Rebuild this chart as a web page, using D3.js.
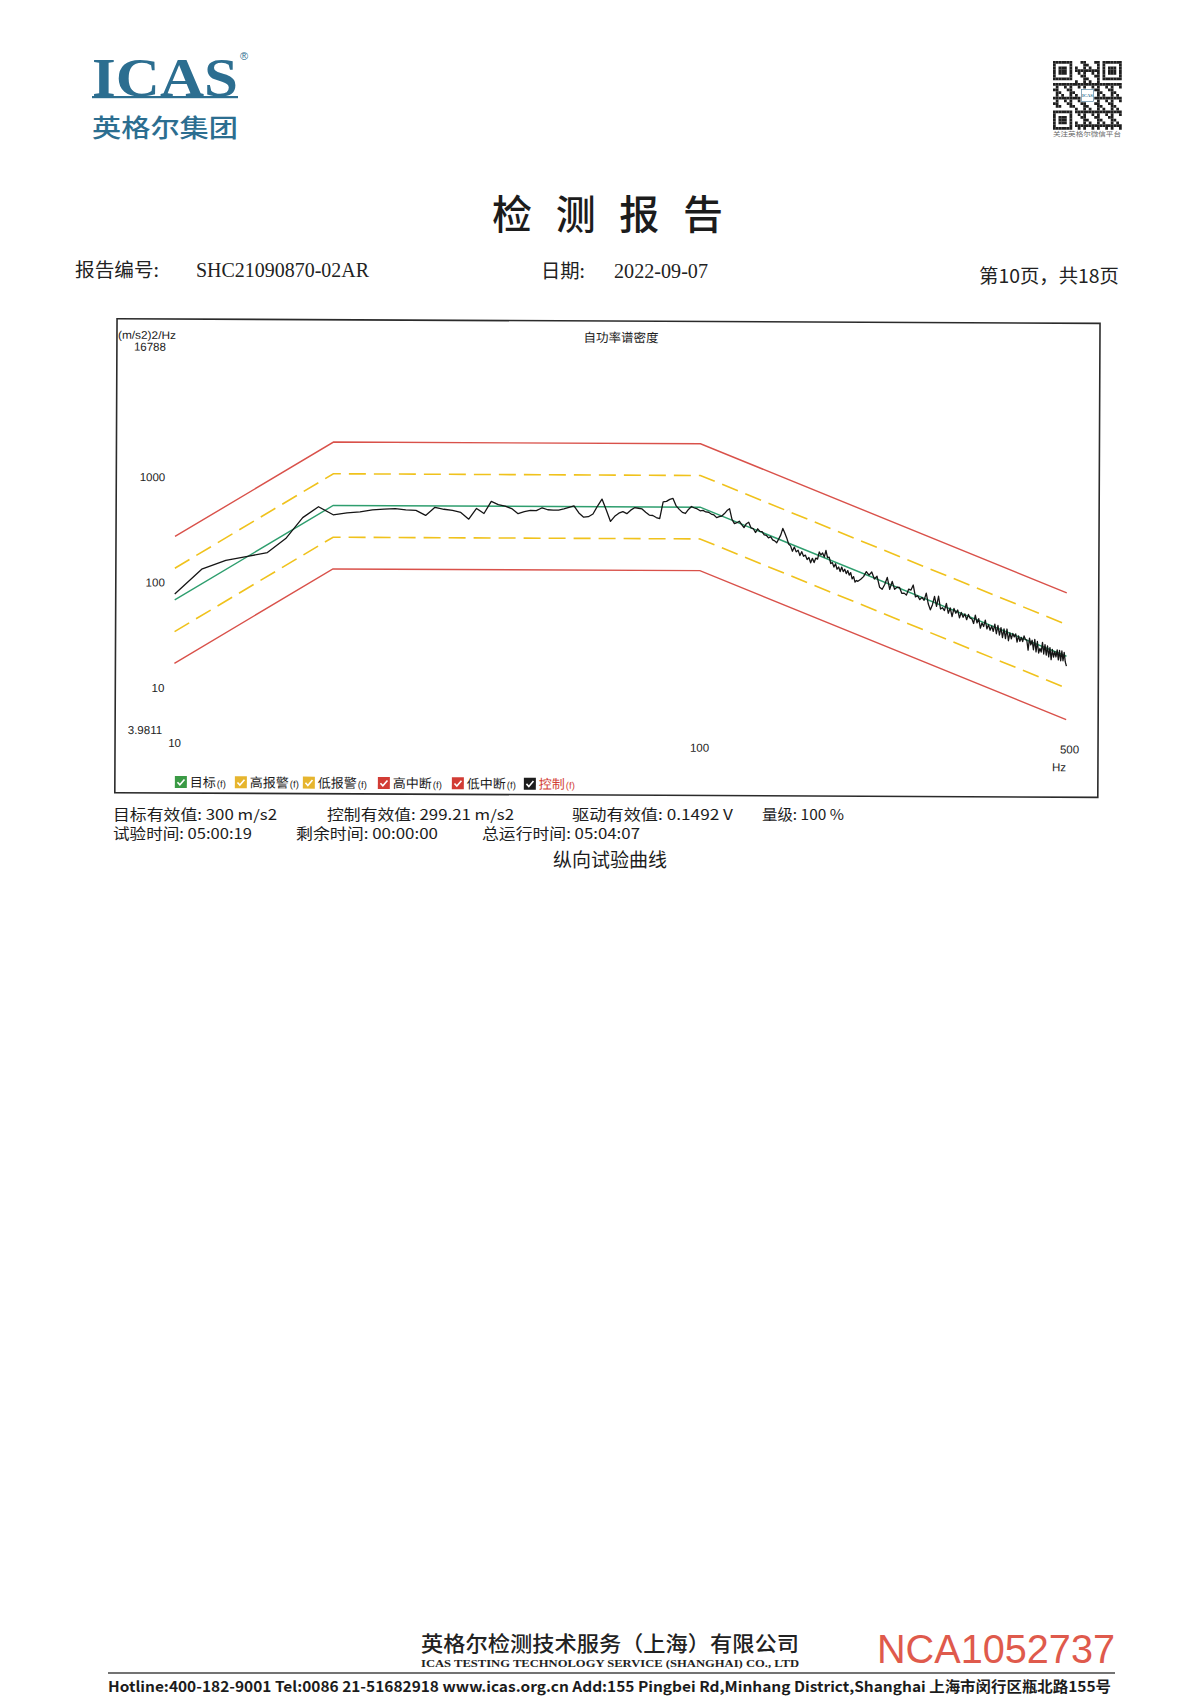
<!DOCTYPE html>
<html><head><meta charset="utf-8">
<script src="https://cdn.jsdelivr.net/npm/d3@7"></script>
<style>
html,body{margin:0;padding:0;background:#fff;}
svg{display:block;}
</style></head><body>
<svg id="page" width="1200" height="1697"></svg>
<script>
// ---- test profile (PSD breakpoints, (m/s2)^2/Hz) ----
const profileFreq   = [10, 20, 100, 500];
const targetPsd     = [68.3, 546.5, 546.5, 21.86];
const highAlarmPsd  = [136.6, 1093, 1093, 43.7];
const lowAlarmPsd   = [34.2, 273.3, 273.3, 10.93];
const highAbortPsd  = [273.3, 2186, 2186, 87.4];
const lowAbortPsd   = [17.1, 136.6, 136.6, 5.47];

// ---- measured control spectrum ----
// band 1: 10 .. 198.75 Hz, 1.25 Hz lines
const ctrlLowStart = 10, ctrlLowStep = 1.25;
const ctrlLow = [
  77.6, 134, 163, 178, 194, 264, 418, 531,
  446, 466, 477, 498, 507, 514, 500, 495, 444, 531, 509, 498, 476, 411, 520, 466,
  608, 567, 549, 520, 466, 487, 502, 498, 531, 509, 505, 505, 520, 537, 555, 476,
  434, 439, 466, 555, 646, 509, 397, 444, 476, 492, 471, 509, 537, 531, 523, 487,
  458, 454, 434, 425, 612, 619, 647, 661, 561, 520, 487, 476, 520, 555, 537, 526, 505,
  510, 493, 490, 471, 462, 436, 446, 452, 477, 509, 531, 421, 383, 391, 404, 375,
  352, 383, 395, 350, 345, 316, 343, 324, 322, 300, 298, 282, 289, 270, 264, 253,
  276, 301, 347, 314, 282, 247, 237, 211, 231, 208, 216, 192, 209, 189, 194, 176,
  184, 164, 181, 165, 182, 178, 208, 195, 204, 186, 215, 184, 186, 162, 165, 150,
  161, 143, 150, 136, 150, 136, 143, 130, 139, 126, 133, 116, 122, 108, 112
];
// band 2: 200 .. 500 Hz, 2.5 Hz lines
const ctrlHighStart = 200, ctrlHighStep = 2.5;
const ctrlHigh = [
  110, 115, 122, 136, 126, 135, 116, 123, 97, 92.7,
  103, 120, 92.7, 110, 92.6, 97, 97, 85, 85.4, 81.8,
  93.3, 91.4, 102, 78.9, 80.8, 74.3, 77.9, 73.1, 85.5, 67.4,
  59.4, 66.5, 79.6, 64.1, 80.1, 60.6, 62.3, 58.6, 68.6, 55.3,
  62.1, 51.3, 61.4, 55.3, 59.4, 50.1, 56.3, 50.7, 54.6, 48.1,
  54.0, 49.8, 49.1, 44.3, 53.2, 44.9, 49.3, 40.0, 44.9, 41.5,
  47.7, 39.4, 43.3, 38.3, 42.1, 37.3, 43.8, 35.5, 42.5, 34.5,
  40.6, 32.6, 39.5, 32.0, 39.4, 30.5, 36.3, 31.8, 35.8, 33.2,
  35.4, 29.6, 34.0, 30.2, 32.8, 30.0, 33.9, 31.4, 31.0, 24.9,
  32.3, 28.0, 30.9, 25.1, 31.5, 24.0, 30.1, 23.4, 25.9, 23.9,
  29.5, 22.9, 28.1, 22.4, 27.3, 21.5, 26.4, 20.3, 25.3, 21.4,
  24.2, 21.5, 25.1, 20.2, 24.8, 19.8, 24.5, 19.8, 23.8, 19.3,
  17.6
];

// ---- axes ----
const yTickValues = [16788, 1000, 100, 10, 3.9811];
const yTickLabels = ["16788", "1000", "100", "10", "3.9811"];
const xTickValues = [10, 100, 500];
const xTickLabels = ["10", "100", "500"];

// ---- legend & readouts ----
const legendNames  = ["目标", "高报警", "低报警", "高中断", "低中断", "控制"];
const legendColors = ["#3a9a45", "#e6b52e", "#e6b52e", "#d23c35", "#d23c35", "#1d1d1d"];
const readoutLine1 = ["目标有效值: 300 m/s2", "控制有效值: 299.21 m/s2", "驱动有效值: 0.1492 V", "量级: 100 %"];
const readoutLine2 = ["试验时间: 05:00:19", "剩余时间: 00:00:00", "总运行时间: 05:04:07"];

const CJK = "'Noto Sans CJK SC', 'Noto Sans', sans-serif";
const SERIF = "'Liberation Serif', 'DejaVu Serif', serif";
const SANS = "'Liberation Sans', Arial, sans-serif";

const svg = d3.select("#page");

// ================= letterhead =================
const brand = "#2c6e90";
svg.append("text").attr("x", 92).attr("y", 96).attr("font-family", SERIF)
  .attr("font-weight", "bold").attr("font-size", 55).attr("fill", brand)
  .attr("textLength", 146).attr("lengthAdjust", "spacingAndGlyphs").text("ICAS");
svg.append("rect").attr("x", 92).attr("y", 96).attr("width", 146).attr("height", 2.2).attr("fill", brand);
svg.append("text").attr("x", 240).attr("y", 60).attr("font-family", SANS)
  .attr("font-size", 11).attr("fill", brand).text("®");
svg.append("text").attr("x", 92).attr("y", 137).attr("font-family", CJK)
  .attr("font-weight", 500).attr("font-size", 25).attr("fill", brand)
  .attr("textLength", 146).attr("lengthAdjust", "spacingAndGlyphs").text("英格尔集团");

// QR badge
(function drawQr() {
  const g = svg.append("g").attr("transform", "translate(1053,61)");
  const n = 25, m = 2.75;
  const finder = (r, c) => {
    const inBox = (r0, c0) => r >= r0 && r < r0 + 7 && c >= c0 && c < c0 + 7;
    const ring = (r0, c0) => {
      const rr = r - r0, cc = c - c0;
      return rr === 0 || rr === 6 || cc === 0 || cc === 6 || (rr >= 2 && rr <= 4 && cc >= 2 && cc <= 4);
    };
    if (inBox(0, 0)) return ring(0, 0) ? 1 : 0;
    if (inBox(0, n - 7)) return ring(0, n - 7) ? 1 : 0;
    if (inBox(n - 7, 0)) return ring(n - 7, 0) ? 1 : 0;
    if ((r === 7 && (c < 8 || c > n - 9)) || (c === 7 && (r < 8 || r > n - 9)) || (r === n - 8 && c < 8) || (c === n - 8 && r < 8)) return 0;
    return -1;
  };
  for (let r = 0; r < n; r++) {
    for (let c = 0; c < n; c++) {
      let on = finder(r, c);
      if (on === -1) on = ((r * 7 + c * 11 + r * c * 3) % 5 < 2) ? 1 : 0;
      if (r >= 10 && r <= 14 && c >= 10 && c <= 14) on = 0;
      if (on) g.append("rect").attr("x", c * m).attr("y", r * m).attr("width", m).attr("height", m).attr("fill", "#1f1f1f");
    }
  }
  g.append("rect").attr("x", 10.3 * m).attr("y", 10.3 * m).attr("width", 4.4 * m).attr("height", 4.4 * m)
    .attr("fill", "#fff").attr("stroke", "#3a6f90").attr("stroke-width", 0.6);
  g.append("text").attr("x", 12.5 * m).attr("y", 13.1 * m).attr("text-anchor", "middle")
    .attr("font-family", SERIF).attr("font-weight", "bold").attr("font-size", 4.5).attr("fill", brand).text("ICAS");
  svg.append("text").attr("x", 1087).attr("y", 136).attr("text-anchor", "middle").attr("font-family", CJK)
    .attr("font-size", 6).attr("fill", "#666").attr("textLength", 68).attr("lengthAdjust", "spacingAndGlyphs")
    .text("关注英格尔微信平台");
})();

// report title and header row
svg.append("text").attr("x", 492).attr("y", 229).attr("font-family", CJK).attr("font-weight", 500)
  .attr("font-size", 40).attr("fill", "#1c1c1c").attr("textLength", 231).attr("lengthAdjust", "spacing").text("检测报告");
svg.append("text").attr("x", 75).attr("y", 277).attr("font-family", CJK).attr("font-size", 19).attr("fill", "#222")
  .attr("textLength", 84).attr("lengthAdjust", "spacingAndGlyphs").text("报告编号:");
svg.append("text").attr("x", 196).attr("y", 277).attr("font-family", SERIF).attr("font-size", 20).attr("fill", "#222")
  .attr("textLength", 173).attr("lengthAdjust", "spacingAndGlyphs").text("SHC21090870-02AR");
svg.append("text").attr("x", 541).attr("y", 278).attr("font-family", CJK).attr("font-size", 19).attr("fill", "#222")
  .attr("textLength", 44).attr("lengthAdjust", "spacingAndGlyphs").text("日期:");
svg.append("text").attr("x", 614).attr("y", 278).attr("font-family", SERIF).attr("font-size", 20).attr("fill", "#222")
  .attr("textLength", 94).attr("lengthAdjust", "spacingAndGlyphs").text("2022-09-07");
svg.append("text").attr("x", 979).attr("y", 283).attr("font-family", CJK).attr("font-size", 19).attr("fill", "#222")
  .attr("textLength", 140).attr("lengthAdjust", "spacingAndGlyphs").text("第10页，共18页");

// ================= PSD chart =================
const x = d3.scaleLog().domain([10, 500]).range([175, 1067]);
const y = d3.scaleLog().domain([3.9811, 16788]).range([730, 348]);

const chart = svg.append("g").attr("transform", "rotate(0.27,175,540)");
chart.append("rect").attr("x", 116).attr("y", 319).attr("width", 983).attr("height", 474)
  .attr("fill", "none").attr("stroke", "#2b2b2b").attr("stroke-width", 1.6);

chart.append("text").attr("x", 620).attr("y", 340).attr("text-anchor", "middle").attr("font-family", CJK)
  .attr("font-size", 12.5).attr("fill", "#222").text("自功率谱密度");
chart.append("text").attr("x", 117).attr("y", 339).attr("font-family", SANS).attr("font-size", 11).attr("fill", "#222")
  .attr("textLength", 58).attr("lengthAdjust", "spacingAndGlyphs").text("(m/s2)2/Hz");

// axis labels through d3 axes (no domain line, no tick marks)
const yAxis = d3.axisLeft(y).tickValues(yTickValues).tickSize(0).tickPadding(0)
  .tickFormat((d, i) => yTickLabels[i]);
const yg = chart.append("g").attr("transform", "translate(165,0)").call(yAxis);
yg.select(".domain").remove();
yg.selectAll("text").attr("font-family", SANS).attr("font-size", 11.5).attr("fill", "#222")
  .attr("dy", (d) => d === 16788 ? "0.2em" : "0.32em")
  .attr("dx", (d) => d === 3.9811 ? -2 : 0);

const xAxis = d3.axisBottom(x).tickValues(xTickValues).tickSize(0).tickPadding(0)
  .tickFormat((d, i) => xTickLabels[i]);
const xg = chart.append("g").attr("transform", "translate(0,740)").call(xAxis);
xg.select(".domain").remove();
xg.selectAll("text").attr("font-family", SANS).attr("font-size", 11.5).attr("fill", "#222")
  .attr("dx", (d) => d === 500 ? 3 : 0).attr("dy", (d) => d === 10 ? "0.6em" : "0.8em");
chart.append("text").attr("x", 1060).attr("y", 767).attr("text-anchor", "middle").attr("font-family", SANS)
  .attr("font-size", 11.5).attr("fill", "#222").text("Hz");

const line = d3.line().x((d) => x(d.f)).y((d) => y(d.v));
const profile = (vals) => profileFreq.map((f, i) => ({ f, v: vals[i] }));

const plot = chart.append("g");
plot.append("path").datum(profile(highAbortPsd)).attr("d", line)
  .attr("fill", "none").attr("stroke", "#d9514a").attr("stroke-width", 1.4);
plot.append("path").datum(profile(lowAbortPsd)).attr("d", line)
  .attr("fill", "none").attr("stroke", "#d9514a").attr("stroke-width", 1.4);
plot.append("path").datum(profile(highAlarmPsd)).attr("d", line)
  .attr("fill", "none").attr("stroke", "#f0c21c").attr("stroke-width", 1.6).attr("stroke-dasharray", "17,8");
plot.append("path").datum(profile(lowAlarmPsd)).attr("d", line)
  .attr("fill", "none").attr("stroke", "#f0c21c").attr("stroke-width", 1.6).attr("stroke-dasharray", "17,8");
plot.append("path").datum(profile(targetPsd)).attr("d", line)
  .attr("fill", "none").attr("stroke", "#2e9e6e").attr("stroke-width", 1.4);

const control = ctrlLow.map((v, i) => ({ f: ctrlLowStart + i * ctrlLowStep, v }))
  .concat(ctrlHigh.map((v, i) => ({ f: ctrlHighStart + i * ctrlHighStep, v })));
plot.append("path").datum(control).attr("d", line)
  .attr("fill", "none").attr("stroke", "#151515").attr("stroke-width", 1.3).attr("stroke-linejoin", "round");

// legend with check boxes
const legendX = [176, 236, 304, 379, 453, 525];
const lg = chart.append("g");
legendNames.forEach((name, i) => {
  const bx = legendX[i], by = 776;
  lg.append("rect").attr("x", bx).attr("y", by).attr("width", 12).attr("height", 12).attr("fill", legendColors[i]);
  lg.append("path").attr("d", `M${bx + 2.6},${by + 6.2} L${bx + 5},${by + 8.8} L${bx + 9.6},${by + 3.4}`)
    .attr("fill", "none").attr("stroke", "#fff").attr("stroke-width", 1.6);
  const t = lg.append("text").attr("x", bx + 15).attr("y", by + 11).attr("font-family", CJK)
    .attr("font-size", 13).attr("fill", i === 5 ? "#d23c35" : "#1c1c1c");
  t.append("tspan").text(name);
  t.append("tspan").attr("font-size", 9.5).attr("font-family", SANS).attr("dx", 1).text("(f)");
});

// readouts below the chart
const r1x = [113, 327, 572, 762], r1w = [164, 187, 161, 82];
readoutLine1.forEach((s, i) => {
  svg.append("text").attr("x", r1x[i]).attr("y", 820).attr("font-family", CJK).attr("font-size", 14.5)
    .attr("fill", "#1c1c1c").attr("textLength", r1w[i]).attr("lengthAdjust", "spacingAndGlyphs").text(s);
});
const r2x = [113, 296, 482], r2w = [139, 142, 158];
readoutLine2.forEach((s, i) => {
  svg.append("text").attr("x", r2x[i]).attr("y", 839).attr("font-family", CJK).attr("font-size", 14.5)
    .attr("fill", "#1c1c1c").attr("textLength", r2w[i]).attr("lengthAdjust", "spacingAndGlyphs").text(s);
});
svg.append("text").attr("x", 610).attr("y", 867).attr("text-anchor", "middle").attr("font-family", CJK)
  .attr("font-size", 19).attr("fill", "#1c1c1c").text("纵向试验曲线");

// ================= footer =================
svg.append("text").attr("x", 421).attr("y", 1651).attr("font-family", CJK).attr("font-weight", 500)
  .attr("font-size", 21).attr("fill", "#222").attr("textLength", 378).attr("lengthAdjust", "spacingAndGlyphs")
  .text("英格尔检测技术服务（上海）有限公司");
svg.append("text").attr("x", 421).attr("y", 1667).attr("font-family", SERIF).attr("font-weight", "bold")
  .attr("font-size", 10.5).attr("fill", "#222").attr("textLength", 378).attr("lengthAdjust", "spacingAndGlyphs")
  .text("ICAS TESTING TECHNOLOGY SERVICE (SHANGHAI) CO., LTD");
svg.append("text").attr("x", 877).attr("y", 1663).attr("font-family", SANS)
  .attr("font-size", 41).attr("fill", "#df5a4c").attr("textLength", 238).attr("lengthAdjust", "spacingAndGlyphs")
  .text("NCA1052737");
svg.append("line").attr("x1", 108).attr("x2", 1115).attr("y1", 1673).attr("y2", 1673)
  .attr("stroke", "#444").attr("stroke-width", 1.3);
svg.append("text").attr("x", 108).attr("y", 1692).attr("font-family", CJK).attr("font-weight", 700)
  .attr("font-size", 14.5).attr("fill", "#1c1c1c").attr("textLength", 1003).attr("lengthAdjust", "spacingAndGlyphs")
  .text("Hotline:400-182-9001  Tel:0086 21-51682918  www.icas.org.cn   Add:155 Pingbei Rd,Minhang District,Shanghai 上海市闵行区瓶北路155号");
</script></body></html>
